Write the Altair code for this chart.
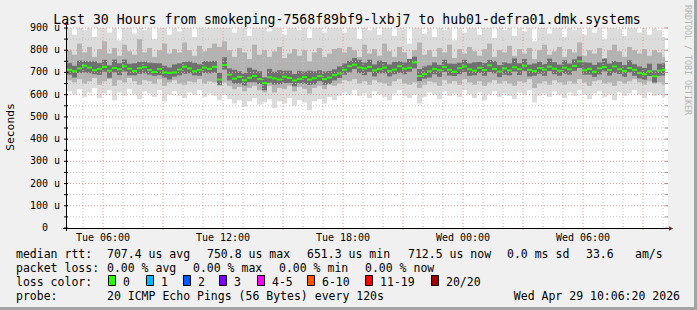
import altair as alt
import pandas as pd

MONO = "DejaVu Sans Mono"

TITLE = "Last 30 Hours from smokeping-7568f89bf9-lxbj7 to hub01-defra01.dmk.systems"
Y_TITLE = "Seconds"
WATERMARK = "RRDTOOL / TOBI OETIKER"
START = "2026-04-28 04:12:00"
END = "2026-04-29 10:12:00"
NOW = "2026-04-29 10:06:20"
STEP_MIN = 15
X_TICKS = ["2026-04-28 06:00", "2026-04-28 12:00", "2026-04-28 18:00",
           "2026-04-29 00:00", "2026-04-29 06:00"]
Y_TICKS = [100, 200, 300, 400, 500, 600, 700, 800, 900]
Y_MAX = 900
Y_UNIT = "u"

# median rtt (microseconds) per 15-minute step
MEDIAN = [
    712, 705, 718, 730, 722, 710, 716, 725, 708, 720,
    714, 728, 717, 706, 719, 724, 711, 702, 715, 700,
    698, 700, 713, 726, 718, 705, 712, 722, 716, 725,
    668, 733, 690, 672, 680, 665, 676, 684, 670, 652,
    678, 673, 668, 681, 675, 664, 671, 679, 668, 674,
    683, 670, 677, 688, 695, 712, 728, 735, 722, 718,
    725, 709, 715, 722, 706, 713, 728, 717, 721, 745,
    684, 692, 705, 716, 710, 724, 712, 703, 719, 727,
    714, 708, 721, 711, 732, 716, 704, 718, 709, 723,
    715, 730, 712, 706, 720, 713, 726, 717, 708, 722,
    714, 729, 750, 710, 716, 703, 719, 724, 711, 727,
    715, 706, 720, 712, 697, 692, 705, 683, 708, 712,
]
# smoke: slowest / fastest ping of each step
A_HI = [
    905, 870, 940, 890, 925, 860, 910, 950, 880, 915,
    845, 930, 900, 875, 960, 890, 920, 850, 905, 935,
    870, 910, 885, 945, 900, 860, 925, 895, 915, 940,
    920, 950, 905, 880, 930, 910, 865, 945, 900, 925,
    885, 915, 940, 870, 905, 930, 890, 920, 855, 910,
    935, 880, 900, 925, 915, 880, 920, 905, 850, 935,
    890, 915, 870, 940, 900, 865, 925, 895, 830, 910,
    945, 875, 905, 860, 920, 890, 935, 845, 910, 880,
    925, 900, 870, 915, 940, 855, 905, 890, 930, 865,
    910, 885, 920, 840, 905, 935, 875, 900, 925, 860,
    915, 890, 945, 870, 905, 880, 920, 850, 910, 935,
    895, 865, 925, 900, 880, 915, 870, 905, 890, 860,
]
A_LO = [
    615, 600, 625, 590, 610, 630, 585, 605, 620, 575,
    610, 595, 625, 600, 580, 615, 605, 590, 620, 570,
    600, 615, 595, 585, 610, 600, 620, 590, 605, 595,
    575, 600, 580, 560, 575, 545, 570, 585, 555, 565,
    580, 540, 570, 560, 585, 550, 575, 565, 530, 570,
    580, 560, 590, 575, 595, 610, 600, 620, 595, 605,
    585, 615, 600, 590, 575, 605, 620, 595, 585, 600,
    560, 590, 610, 600, 580, 615, 595, 605, 590, 620,
    600, 585, 610, 575, 600, 615, 590, 605, 595, 580,
    610, 600, 620, 565, 595, 605, 590, 615, 600, 585,
    610, 595, 620, 600, 580, 605, 615, 590, 600, 575,
    610, 595, 605, 620, 600, 585, 610, 595, 600, 590,
]
# smoke: middle band of pings
B_HI = [
    800, 780, 830, 790, 815, 770, 805, 840, 785, 810,
    775, 825, 795, 780, 850, 790, 810, 770, 800, 830,
    785, 805, 790, 835, 800, 775, 820, 795, 810, 830,
    815, 840, 800, 770, 810, 790, 760, 825, 780, 800,
    770, 795, 815, 765, 785, 805, 775, 800, 750, 790,
    810, 770, 785, 805, 810, 790, 815, 800, 770, 825,
    785, 805, 775, 830, 795, 770, 815, 790, 760, 800,
    835, 780, 800, 770, 810, 790, 825, 765, 805, 785,
    815, 795, 775, 805, 830, 770, 800, 790, 820, 775,
    805, 785, 810, 760, 800, 825, 780, 795, 815, 770,
    805, 790, 835, 775, 800, 785, 810, 765, 800, 825,
    795, 770, 815, 800, 785, 805, 775, 800, 790, 770,
]
B_LO = [
    665, 655, 670, 650, 660, 675, 645, 660, 670, 640,
    665, 655, 675, 660, 645, 665, 660, 650, 670, 640,
    655, 665, 650, 645, 660, 655, 670, 650, 660, 655,
    640, 655, 640, 625, 635, 615, 630, 640, 620, 610,
    640, 610, 630, 625, 640, 615, 635, 625, 605, 630,
    640, 625, 645, 640, 650, 665, 660, 670, 650, 660,
    645, 665, 655, 650, 640, 660, 670, 650, 645, 655,
    630, 645, 660, 655, 640, 665, 650, 660, 645, 670,
    655, 645, 660, 640, 655, 665, 650, 660, 650, 640,
    660, 655, 670, 630, 650, 660, 645, 665, 655, 645,
    660, 650, 670, 655, 640, 660, 665, 650, 655, 640,
    660, 650, 660, 670, 655, 645, 660, 650, 655, 645,
]
# smoke: dark core spread above / below the median
C_UP = [
    30, 25, 35, 22, 28, 40, 26, 32, 24, 38,
    27, 30, 22, 35, 29, 25, 33, 40, 26, 30,
    24, 36, 28, 22, 31, 38, 25, 29, 34, 27,
    30, 35, 28, 40, 25, 32, 45, 28, 35, 26,
    38, 30, 42, 27, 33, 29, 36, 25, 40, 31,
    27, 34, 30, 26, 32, 28, 24, 30, 35, 26,
    32, 27, 38, 25, 30, 34, 22, 28, 40, 26,
    31, 35, 27, 29, 24, 33, 28, 36, 25, 30,
    27, 38, 26, 31, 24, 35, 29, 27, 32, 40,
    26, 30, 23, 34, 28, 25, 36, 29, 27, 33,
    26, 30, 22, 35, 28, 31, 26, 38, 29, 24,
    32, 27, 35, 25, 30, 28, 34, 26, 31, 29,
]
C_DN = [
    22, 28, 20, 30, 25, 18, 27, 22, 32, 20,
    26, 24, 30, 19, 25, 28, 21, 17, 27, 23,
    30, 19, 26, 32, 22, 18, 27, 24, 20, 26,
    24, 20, 26, 22, 30, 25, 20, 28, 22, 32,
    24, 27, 21, 29, 23, 26, 20, 30, 24, 27,
    22, 25, 28, 24, 20, 22, 28, 20, 25, 30,
    23, 27, 19, 26, 24, 21, 30, 25, 18, 27,
    23, 20, 28, 24, 30, 22, 26, 19, 27, 25,
    29, 21, 24, 26, 30, 20, 25, 28, 22, 19,
    27, 24, 30, 21, 26, 28, 20, 25, 23, 27,
    24, 22, 30, 20, 26, 23, 28, 19, 25, 29,
    22, 26, 20, 27, 24, 25, 21, 28, 23, 26,
]

RTT_STATS = [707.4, 750.8, 651.3, 712.5]
STAT_NAMES = ["avg", "max", "min", "now"]
SD_MS = 0.0
AMS = 33.6
LOSS_STATS = [0.00, 0.00, 0.00, 0.00]
LOSS_LABELS = ["0", "1", "2", "3", "4-5", "6-10", "11-19", "20/20"]
LOSS_COLORS = ["#26ff00", "#00b8ff", "#0059ff", "#7e00ff",
               "#ff00ff", "#ff5500", "#ff0000", "#a10000"]
PROBE = "20 ICMP Echo Pings (56 Bytes) every 120s"
STAMP = "Wed Apr 29 10:06:20 2026"

# ---------------------------------------------------------------
CW, CH = 697, 310                  # whole canvas
PL, PR, PT, PB = 67, 667, 28, 228  # plot rectangle on the canvas


def ms(s):
    return int(pd.Timestamp(s, tz="UTC").value // 10**6)


start_ms, end_ms, now_ms = ms(START), ms(END), ms(NOW)
step = STEP_MIN * 60000
n = len(MEDIAN)
t0 = [start_ms + i * step for i in range(n)]
t1 = [min(v + step, now_ms) for v in t0]
df = pd.DataFrame({
    "t": t0, "te": t1, "med": MEDIAN,
    "a_lo": A_LO, "a_hi": [min(v, Y_MAX) for v in A_HI],   # rrdtool clips at the top
    "b_lo": B_LO, "b_hi": [min(v, Y_MAX) for v in B_HI],
    "c_lo": [m - d for m, d in zip(MEDIAN, C_DN)],
    "c_hi": [min(m + u, Y_MAX) for m, u in zip(MEDIAN, C_UP)],
})

xs = alt.Scale(type="utc", domain=[start_ms, end_ms], range=[PL, PR], nice=False)
ys = alt.Scale(type="linear", domain=[0, Y_MAX], range=[PB, PT], nice=False, zero=False)


def X(f):
    return alt.X(f, scale=xs, axis=None)


def Y(f):
    return alt.Y(f, scale=ys, axis=None)


one = pd.DataFrame({"k": [0]})
layers = []

# white plot area
layers.append(alt.Chart(one).mark_rect(fill="#ffffff").encode(
    x=alt.value(PL), x2=alt.value(PR + 1), y=alt.value(PT), y2=alt.value(PB)))


def band(lo, hi, color):
    return alt.Chart(df).mark_rect(fill=color).encode(
        x=X("t:T"), x2=alt.X2("te"), y=Y(f"{lo}:Q"), y2=alt.Y2(hi))


layers.append(band("a_lo", "a_hi", "#dcdcdc"))
layers.append(band("b_lo", "b_hi", "#b3b3b3"))
layers.append(band("c_lo", "c_hi", "#707070"))

# grid
hours = pd.date_range(pd.Timestamp(START, tz="UTC").ceil("h"),
                      pd.Timestamp(END, tz="UTC"), freq="h")
vgrid = pd.DataFrame({"t": [int(h.value // 10**6) for h in hours],
                      "major": [h.hour % 3 == 0 for h in hours]})
hgrid = pd.DataFrame({"v": list(range(50, Y_MAX + 1, 50))})
hgrid["major"] = hgrid["v"] % 100 == 0

MINOR_C = "#c4c4c4"
MAJOR_C = "#e89a9a"
layers.append(alt.Chart(vgrid[~vgrid.major]).mark_rule(
    color=MINOR_C, strokeDash=[1, 2]).encode(
    x=X("t:T"), y=alt.value(PT), y2=alt.value(PB)))
layers.append(alt.Chart(hgrid[~hgrid.major]).mark_rule(
    color=MINOR_C, strokeDash=[1, 2]).encode(
    y=Y("v:Q"), x=alt.value(PL), x2=alt.value(PR + 1)))
layers.append(alt.Chart(vgrid[vgrid.major]).mark_rule(
    color=MAJOR_C, strokeDash=[1, 2]).encode(
    x=X("t:T"), y=alt.value(PT), y2=alt.value(PB + 3)))
layers.append(alt.Chart(hgrid[hgrid.major]).mark_rule(
    color=MAJOR_C, strokeDash=[1, 2]).encode(
    y=Y("v:Q"), x=alt.value(PL), x2=alt.value(PR + 1)))

# edge ticks
ticks = pd.DataFrame({"v": list(range(0, Y_MAX + 1, 50))})
layers.append(alt.Chart(ticks).mark_rule(color="#000000").encode(
    y=Y("v:Q"), x=alt.value(PL - 3), x2=alt.value(PL + 1)))
layers.append(alt.Chart(ticks).mark_rule(color="#9a9a9a").encode(
    y=Y("v:Q"), x=alt.value(PR - 2), x2=alt.value(PR + 1)))

# median
layers.append(alt.Chart(df).mark_rule(color=LOSS_COLORS[0], strokeWidth=2).encode(
    x=X("t:T"), x2=alt.X2("te"), y=Y("med:Q")))

# axis lines on the plot frame, with arrow heads
layers.append(alt.Chart(one).mark_rule(color="#000000").encode(
    y=alt.value(PB + 0.5), x=alt.value(PL - 4), x2=alt.value(PR + 3)))
layers.append(alt.Chart(one).mark_rule(color="#000000").encode(
    x=alt.value(PL - 0.5), y=alt.value(PB + 3), y2=alt.value(PT - 4)))
layers.append(alt.Chart(one).mark_point(shape="triangle-right", filled=True, size=22,
                                        color="#8b1a1a", opacity=1).encode(
    x=alt.value(PR + 4), y=alt.value(PB + 0.5)))
layers.append(alt.Chart(one).mark_point(shape="triangle-up", filled=True, size=22,
                                        color="#8b1a1a", opacity=1).encode(
    x=alt.value(PL - 0.5), y=alt.value(PT - 5)))

# axis labels
ylab = pd.DataFrame({"v": Y_TICKS, "lab": [f"{v} {Y_UNIT}" for v in Y_TICKS]})
layers.append(alt.Chart(ylab).mark_text(align="right", baseline="middle", font=MONO,
                                        fontSize=10, color="#000000").encode(
    y=Y("v:Q"), x=alt.value(PL - 7), text="lab:N"))
zlab = pd.DataFrame({"v": [0], "lab": ["0"]})
layers.append(alt.Chart(zlab).mark_text(align="right", baseline="middle", font=MONO,
                                        fontSize=10, color="#000000").encode(
    y=Y("v:Q"), x=alt.value(PL - 19), text="lab:N"))
xlab = pd.DataFrame({"t": [ms(v) for v in X_TICKS],
                     "lab": [pd.Timestamp(v).strftime("%a %H:%M") for v in X_TICKS]})
layers.append(alt.Chart(xlab).mark_text(align="center", baseline="alphabetic", font=MONO,
                                        fontSize=10, color="#000000").encode(
    x=X("t:T"), y=alt.value(241), text="lab:N"))


def txt(s, x, y, size=11.5, align="left", baseline="alphabetic", color="#000000", angle=0):
    return alt.Chart(one).mark_text(text=s, align=align, baseline=baseline, font=MONO,
                                    fontSize=size, color=color, angle=angle).encode(
        x=alt.value(x), y=alt.value(y))


layers.append(txt(TITLE, 347, 23.5, size=13.2, align="center"))
layers.append(txt(Y_TITLE, 11, 127, size=11.3, align="center", baseline="middle", angle=270))
layers.append(txt(WATERMARK, 687, 60, size=8.3, align="center", baseline="middle",
                  color="#b4b4b4", angle=90))

R1, R2, R3, R4 = 258, 272, 286, 300
layers.append(txt("median rtt:", 16, R1))
for v, name, x in zip(RTT_STATS, STAT_NAMES, [107, 207, 307, 408]):
    layers.append(txt(f"{v:.1f} us {name}", x, R1))
layers.append(txt(f"{SD_MS:.1f} ms sd", 507, R1))
layers.append(txt(f"{AMS:.1f}", 586, R1))
layers.append(txt("am/s", 635, R1))

layers.append(txt("packet loss:", 16, R2))
for v, name, x in zip(LOSS_STATS, STAT_NAMES, [107, 193, 279, 365]):
    layers.append(txt(f"{v:.2f} % {name}", x, R2))

layers.append(txt("loss color:", 16, R3))
for lab, col, bx in zip(LOSS_LABELS, LOSS_COLORS, [108, 146, 183, 219, 257, 307, 365, 431]):
    layers.append(alt.Chart(one).mark_rect(fill=col, stroke="#000000", strokeWidth=1).encode(
        x=alt.value(bx + 0.5), x2=alt.value(bx + 7.5),
        y=alt.value(R3 - 10.5), y2=alt.value(R3 - 0.5)))
    layers.append(txt(lab, bx + 15, R3))

layers.append(txt("probe:", 16, R4))
layers.append(txt(PROBE, 107, R4))
layers.append(txt(STAMP, 680, R4, align="right"))

# frame shading (right / bottom)
layers.append(alt.Chart(one).mark_rect(fill="#a3a3a3").encode(
    x=alt.value(CW - 3), x2=alt.value(CW), y=alt.value(0), y2=alt.value(CH)))
layers.append(alt.Chart(one).mark_rect(fill="#a3a3a3").encode(
    x=alt.value(0), x2=alt.value(CW), y=alt.value(CH - 3), y2=alt.value(CH)))

chart = alt.layer(*layers).properties(
    width=CW, height=CH, padding=0,
    autosize=alt.AutoSizeParams(type="none"),
).configure(background="#f0f0f0").configure_view(fill="#f0f0f0", strokeWidth=0)

chart.save("out.html", embed_options={"renderer": "svg", "actions": False})
